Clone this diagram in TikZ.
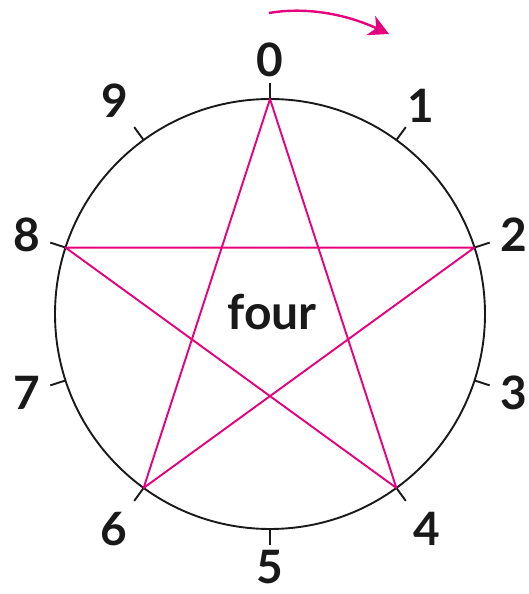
\documentclass[tikz,border=0pt]{standalone}
\usepackage{fontspec}
\setmainfont{Lato}
\usetikzlibrary{arrows.meta,calc}
\definecolor{starpink}{HTML}{E6007E}
\begin{document}
\begin{tikzpicture}[x=1pt,y=1pt,
  rim/.style={draw=black!90,line width=1.9pt},
  tickline/.style={draw=black!90,line width=1.9pt},
  starline/.style={draw=starpink,line width=1.9pt,line join=round},
  digit/.style={font=\fontsize{46}{46}\selectfont\bfseries,text=black!90,inner sep=0pt},
  word/.style={font=\fontsize{48}{48}\selectfont\bfseries,text=black!90,inner sep=0pt}]
\useasboundingbox (0,0) rectangle (528,594);
\coordinate (c) at (270,280);
\draw[rim] (c) circle (215);
\foreach \i/\r in {0/254,1/257,2/256,3/256,4/266,5/253,6/266,7/256,8/256,9/264}{
  \coordinate (p\i) at ($(c)+({90-36*\i}:215)$);
  \coordinate (t\i) at ($(c)+({90-36*\i}:231)$);
  \draw[tickline] (p\i) -- (t\i);
  \node[digit] (l\i) at ($(c)+({90-36*\i}:\r)$) {\i};
}
\draw[starline] (p0) -- (p4) -- (p8) -- (p2) -- (p6) -- cycle;
\node[word,anchor=base] (w) at (272,264) {four};
\coordinate (arrS) at (269,581);
\coordinate (arrE) at (389,560);
\draw[draw=starpink,line width=2.4pt,-{Stealth[length=20pt,width=21pt,inset=6pt]}]
  (arrS) .. controls (310,588) and (350,578) .. (arrE);
\end{tikzpicture}
\end{document}
